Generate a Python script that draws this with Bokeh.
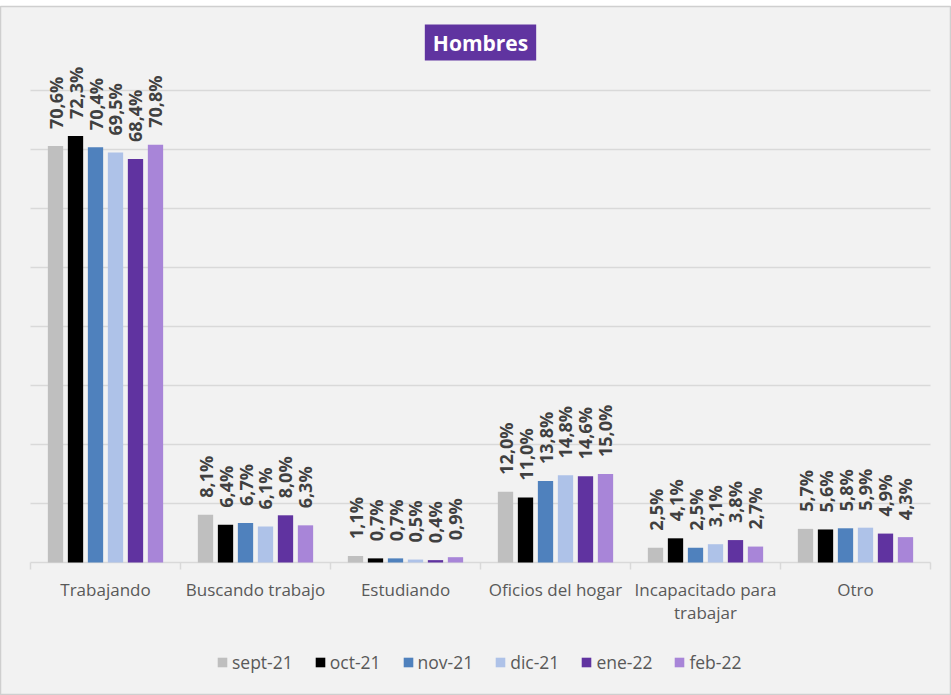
import numpy as np
from bokeh.plotting import figure
from bokeh.models import Range1d, Legend, LegendItem, Label, ColumnDataSource
from bokeh.embed import file_html
from bokeh.resources import INLINE
from bokeh.core.properties import value

categories = ["Trabajando", "Buscando trabajo", "Estudiando", "Oficios del hogar",
              "Incapacitado para\ntrabajar", "Otro"]
series = ["sept-21", "oct-21", "nov-21", "dic-21", "ene-22", "feb-22"]
colors = ["#bfbfbf", "#000000", "#4f81bd", "#aec2e8", "#6033a0", "#a885d8"]
grid_ticks = [10, 20, 30, 40, 50, 60, 70, 80]

sept21 = [70.6, 8.1, 1.1, 12.0, 2.5, 5.7]
oct21 = [72.3, 6.4, 0.7, 11.0, 4.1, 5.6]
nov21 = [70.4, 6.7, 0.7, 13.8, 2.5, 5.8]
dic21 = [69.5, 6.1, 0.5, 14.8, 3.1, 5.9]
ene22 = [68.4, 8.0, 0.4, 14.6, 3.8, 4.9]
feb22 = [70.8, 6.3, 0.9, 15.0, 2.7, 4.3]
values = [sept21, oct21, nov21, dic21, ene22, feb22]

FONT = "Open Sans"
BG = "#f2f2f2"
GRID = "#d9d9d9"

# pixel scale: 150 px per category, 5.9 px per percentage point
PX_X = 150.0
PX_Y = 5.9
FW, FH, TOP = 951, 689, 6
LEFT_PAD, AXIS_Y = 30, 556  # axis position inside frame (px from frame top)

p = figure(frame_width=FW, frame_height=FH, output_backend="svg", toolbar_location=None,
           x_range=Range1d(-LEFT_PAD / PX_X, (FW - LEFT_PAD) / PX_X),
           y_range=Range1d(-(FH - AXIS_Y) / PX_Y, AXIS_Y / PX_Y),
           x_axis_location=None, y_axis_location=None,
           min_border_left=0, min_border_right=0, min_border_top=TOP,
           min_border_bottom=0)
p.background_fill_color = BG
p.border_fill_color = "#ffffff"
p.outline_line_color = "#cfcfcf"
p.outline_line_width = 1.5
p.xgrid.visible = False
p.ygrid.visible = False

ncat = len(categories)
# gridlines
p.segment(x0=[0] * len(grid_ticks), x1=[ncat] * len(grid_ticks),
          y0=grid_ticks, y1=grid_ticks, line_color=GRID, line_width=1.5)
# axis line and boundary ticks
p.segment(x0=[0], x1=[ncat], y0=[0], y1=[0], line_color=GRID, line_width=1.5)
bounds = list(range(ncat + 1))
p.segment(x0=bounds, x1=bounds, y0=[0] * len(bounds), y1=[-7 / PX_Y] * len(bounds),
          line_color=GRID, line_width=1.5)

centers = np.arange(ncat) + 0.5
step = 0.1333
bw = 0.102

items = []
for j, (name, col, vals) in enumerate(zip(series, colors, values)):
    xs = centers + (j - 2.5) * step
    src = ColumnDataSource(dict(x=xs, top=vals,
                                lab=[f"{v:.1f}%".replace(".", ",") for v in vals]))
    r = p.vbar(x="x", top="top", width=bw, bottom=0, source=src,
               fill_color=col, line_color=None)
    p.text(x="x", y="top", text="lab", source=src, angle=np.pi / 2,
           text_align="left", text_baseline="middle", y_offset=-17,
           text_font=value(FONT), text_font_style="bold", text_font_size="18px",
           text_color="#404040")
    items.append(LegendItem(label=name, renderers=[r]))

# category labels
p.text(x=centers, y=[0] * ncat, text=categories, text_align="center",
       text_baseline="top", y_offset=15, text_line_height=1.02,
       text_font=value(FONT), text_font_size="17px", text_color="#595959")

legend = Legend(items=items, orientation="horizontal", location=(216, 21))
legend.background_fill_alpha = 0
legend.border_line_color = None
legend.label_text_font = FONT
legend.label_text_font_size = "17.5px"
legend.label_text_color = "#595959"
legend.glyph_width = 12
legend.glyph_height = 12
legend.label_standoff = 4
legend.spacing = 21
legend.margin = 0
legend.padding = 4
p.add_layout(legend)

title = Label(x=3, y=(AXIS_Y - 36) / PX_Y, text="Hombres", text_align="center",
              text_baseline="middle", text_color="white", text_font=FONT,
              text_font_style="bold", text_font_size="21px",
              background_fill_color="#6034a0",
              padding=dict(left=8, right=8, top=4, bottom=4))
p.add_layout(title)

open("out.html", "w").write(file_html(p, INLINE))
